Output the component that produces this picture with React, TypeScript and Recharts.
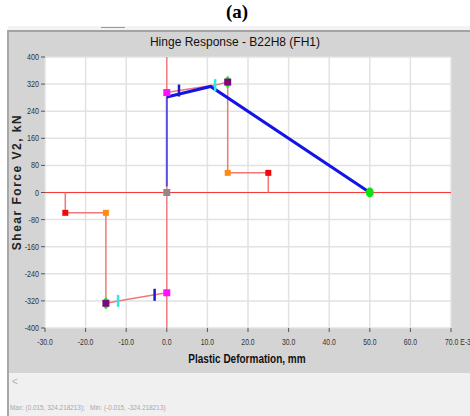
import {
  ComposedChart,
  Line,
  Scatter,
  XAxis,
  YAxis,
  CartesianGrid,
} from "recharts";

const xTicks = [-30, -20, -10, 0, 10, 20, 30, 40, 50, 60, 70];
const yTicks = [-400, -320, -240, -160, -80, 0, 80, 160, 240, 320, 400];

// zero axes drawn in red
const zeroH = [{ x: -30, y: 0 }, { x: 70, y: 0 }];
const zeroV = [{ x: 0, y: -400 }, { x: 0, y: 400 }];

// hinge backbone (thin red)
const backbonePos = [
  { x: 0, y: 295 }, { x: 3, y: 301 }, { x: 11.9, y: 317 }, { x: 15, y: 326 },
  { x: 15, y: 58 }, { x: 25, y: 58 }, { x: 25, y: 0 },
];
const backboneNeg = [
  { x: 0, y: -296 }, { x: -3, y: -302 }, { x: -12, y: -320 }, { x: -15, y: -327 },
  { x: -15, y: -60 }, { x: -25, y: -60 }, { x: -25, y: 0 },
];

// hinge response (blue)
const responseElastic = [{ x: 0, y: 18 }, { x: 0, y: 282 }];
const responsePlastic = [{ x: 0, y: 282 }, { x: 10.8, y: 313 }, { x: 50, y: 0 }];

// markers
const originPt = [{ x: 0, y: 0 }];
const yieldPts = [{ x: 0, y: 295 }, { x: 0, y: -296 }];
const ioPts = [{ x: 3, y: 301 }, { x: -3, y: -302 }];
const lsPts = [{ x: 11.9, y: 317 }, { x: -12, y: -320 }];
const cpPts = [{ x: 15, y: 326 }, { x: -15, y: -327 }];
const dPts = [{ x: 15, y: 58 }, { x: -15, y: -60 }];
const ePts = [{ x: 25, y: 58 }, { x: -25, y: -60 }];
const endPt = [{ x: 50, y: 0 }];

const sans = "'Liberation Sans', Arial, sans-serif";

const square = (color: string, s = 6) => (p: any) => (
  <rect x={p.cx - s / 2} y={p.cy - s / 2} width={s} height={s} fill={color} />
);
const bar = (color: string, w = 2, h = 11) => (p: any) => (
  <rect x={p.cx - w / 2} y={p.cy - h / 2} width={w} height={h} fill={color} />
);
const oval = (color: string, rx: number, ry: number) => (p: any) => (
  <ellipse cx={p.cx} cy={p.cy} rx={rx} ry={ry} fill={color} />
);

const YTick = ({ x, y, payload }: any) => (
  <text
    transform={`translate(${x} ${y}) scale(0.8 1)`}
    dy={3}
    textAnchor="end"
    fontSize={9}
    fill="#333"
    fontFamily={sans}
  >
    {payload.value}
  </text>
);

const XTick = ({ x, y, payload }: any) => {
  const v = Number(payload.value).toFixed(1);
  const last = payload.value === 70;
  return (
    <text
      transform={`translate(${x} ${y}) scale(0.76 1)`}
      x={last ? -8 : 0}
      dy={11}
      textAnchor={last ? "start" : "middle"}
      fontSize={9}
      fill="#333"
      fontFamily={sans}
    >
      {last ? `${v} E-3` : v}
    </text>
  );
};

export default function App() {
  return (
    <div style={{ position: "absolute", left: 0, top: 0, width: 470, height: 416, background: "#fff", overflow: "hidden" }}>
      <div style={{ position: "absolute", left: 0, top: 0, width: 470, textAlign: "center", fontFamily: "'Liberation Serif', 'Times New Roman', serif", fontWeight: "bold", fontSize: 19, lineHeight: "24px", paddingLeft: 2 }}>
        (a)
      </div>
      <div style={{ position: "absolute", left: 8, top: 26, width: 462, height: 4, background: "#f3f3f3" }} />
      <div style={{ position: "absolute", left: 101, top: 27, width: 24, height: 1, background: "#999" }} />
      <div style={{ position: "absolute", left: 8, top: 30, width: 462, height: 343, background: "#d4d4d4", borderTop: "2px solid #a3a3a3", boxSizing: "border-box" }} />
      <div style={{ position: "absolute", left: 8, top: 373, width: 462, height: 43, background: "#f0f0f0" }} />
      <div style={{ position: "absolute", left: 7, top: 30, width: 2, height: 386, background: "#a8a8a8" }} />

      <ComposedChart
        width={470}
        height={416}
        margin={{ top: 57, right: 19, bottom: 58, left: 8 }}
        style={{ position: "absolute", left: 0, top: 0 }}
      >
        <CartesianGrid stroke="#e2e2e2" strokeWidth={1.5} fill="#fff" verticalValues={xTicks} horizontalValues={yTicks} />
        <XAxis
          type="number"
          dataKey="x"
          domain={[-30, 70]}
          ticks={xTicks}
          allowDataOverflow
          axisLine={false}
          tickSize={4}
          tickLine={{ stroke: "#555" }}
          tick={<XTick />}
          height={30}
          interval={0}
        />
        <YAxis
          type="number"
          dataKey="y"
          domain={[-400, 400]}
          ticks={yTicks}
          allowDataOverflow
          axisLine={false}
          tickSize={4}
          tickLine={{ stroke: "#555" }}
          tick={<YTick />}
          width={37}
          interval={0}
        />
        <Line data={zeroH} dataKey="y" stroke="#f53a3a" strokeWidth={1.2} dot={false} isAnimationActive={false} />
        <Line data={zeroV} dataKey="y" stroke="#f06a6a" strokeWidth={1.2} dot={false} isAnimationActive={false} />
        <Line data={backbonePos} dataKey="y" stroke="#f07878" strokeWidth={1.5} dot={false} isAnimationActive={false} />
        <Line data={backboneNeg} dataKey="y" stroke="#f07878" strokeWidth={1.5} dot={false} isAnimationActive={false} />
        <Line data={responseElastic} dataKey="y" stroke="#5a50e0" strokeWidth={2} dot={false} isAnimationActive={false} />
        <Line data={responsePlastic} dataKey="y" stroke="#1414e6" strokeWidth={3} dot={false} isAnimationActive={false} />
        <Scatter data={originPt} dataKey="y" shape={square("#8a8a8a", 7)} isAnimationActive={false} />
        <Scatter data={yieldPts} dataKey="y" shape={square("#ff10ff", 7)} isAnimationActive={false} />
        <Scatter data={ioPts} dataKey="y" shape={bar("#1a1ad0", 2.5, 12)} isAnimationActive={false} />
        <Scatter data={lsPts} dataKey="y" shape={bar("#30e8e8", 2.5, 12)} isAnimationActive={false} />
        <Scatter data={cpPts} dataKey="y" shape={oval("#2ee82e", 2.5, 6)} isAnimationActive={false} />
        <Scatter data={cpPts} dataKey="y" shape={square("#7a0a7a", 7)} isAnimationActive={false} />
        <Scatter data={dPts} dataKey="y" shape={square("#ff8c10", 6)} isAnimationActive={false} />
        <Scatter data={ePts} dataKey="y" shape={square("#ee0a0a", 6)} isAnimationActive={false} />
        <Scatter data={endPt} dataKey="y" shape={oval("#10e010", 4, 5)} isAnimationActive={false} />
      </ComposedChart>

      <div style={{ position: "absolute", left: 0, top: 35, width: 470, textAlign: "center", fontFamily: sans, fontSize: 12, lineHeight: "15px", color: "#111" }}>
        Hinge Response - B22H8 (FH1)
      </div>
      <div style={{ position: "absolute", left: 17 - 100, top: 175, width: 200, height: 14, textAlign: "center", transform: "rotate(-90deg)", fontFamily: sans, fontWeight: "bold", fontSize: 12, lineHeight: "14px", letterSpacing: 1.5, color: "#222" }}>
        Shear Force V2, kN
      </div>
      <div style={{ position: "absolute", left: 147, top: 352, width: 200, textAlign: "center", fontFamily: sans, fontWeight: "bold", fontSize: 12.5, lineHeight: "15px", color: "#111", transform: "scaleX(0.8)", transformOrigin: "center center", whiteSpace: "nowrap" }}>
        Plastic Deformation, mm
      </div>
      <div style={{ position: "absolute", left: 12, top: 376, fontFamily: sans, fontSize: 10, color: "#b0b0b0" }}>
        &lt;
      </div>
      <div style={{ position: "absolute", left: 10, top: 403, fontFamily: sans, fontSize: 7.5, color: "#a8a8a8", whiteSpace: "pre", transform: "scaleX(0.85)", transformOrigin: "left center" }}>
        Max: (0.015, 324.218213);   Min: (-0.015, -324.218213)
      </div>
    </div>
  );
}
